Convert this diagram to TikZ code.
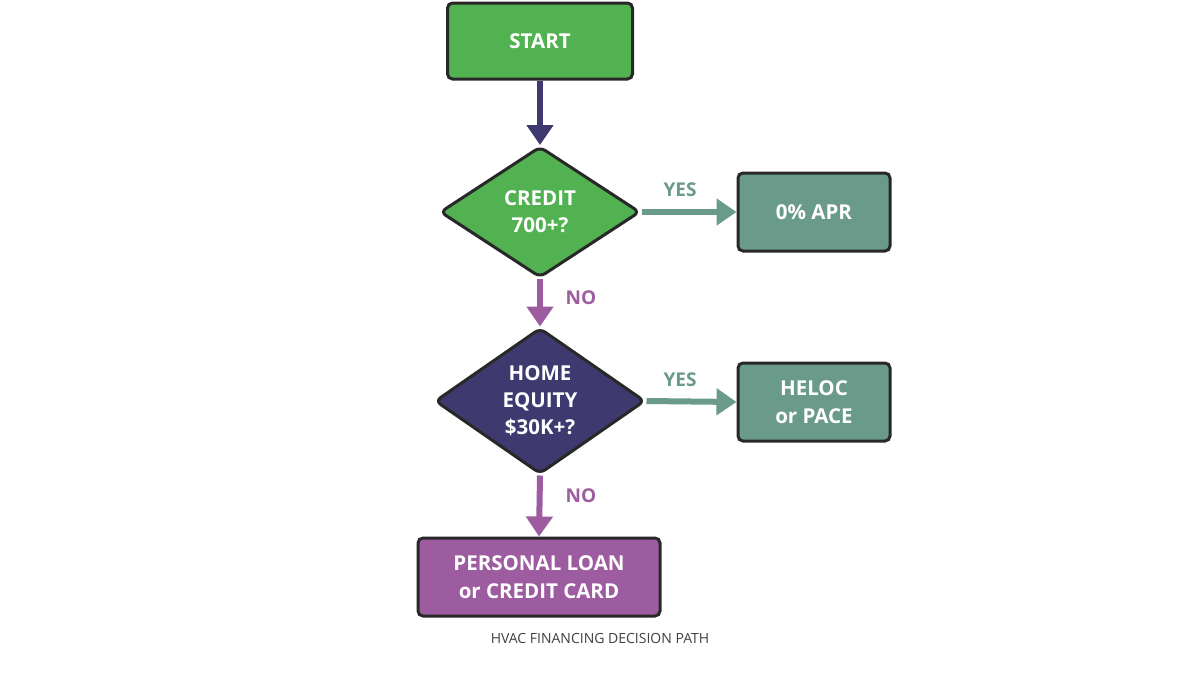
\documentclass[tikz,border=0pt]{standalone}
\usepackage{fontspec}
\setmainfont{Open Sans}
\usetikzlibrary{shapes.geometric,arrows.meta}
\definecolor{gr}{RGB}{82,178,82}
\definecolor{tl}{RGB}{106,154,138}
\definecolor{nv}{RGB}{62,58,112}
\definecolor{pu}{RGB}{158,92,160}
\definecolor{bd}{RGB}{40,40,40}
\begin{document}
\begin{tikzpicture}[x=1pt,y=-1pt,
  box/.style={draw=bd,line width=3pt,rounded corners=5pt,text=white,font=\fontsize{20.5}{28}\selectfont\bfseries,align=center,inner sep=0},
  dia/.style={diamond,draw=bd,line width=3pt,rounded corners=6pt,text=white,font=\fontsize{20.5}{27}\selectfont\bfseries,align=center,inner sep=0},
  arr/.style={line width=6pt,-{Triangle[length=20pt,width=26pt]}},
  lab/.style={font=\fontsize{19}{22}\selectfont\bfseries}]
\fill[white] (0,0) rectangle (1200,675);
\useasboundingbox (0,0) rectangle (1200,675);
\node[box,fill=gr,minimum width=185pt,minimum height=76pt] (start) at (540,41) {START};
\node[dia,fill=gr,minimum width=200pt,minimum height=131pt] (d1) at (540,212) {CREDIT\\700+?};
\node[box,fill=tl,minimum width=152pt,minimum height=78pt] (apr) at (814,212) {0\% APR};
\node[dia,fill=nv,minimum width=210pt,minimum height=146pt] (d2) at (540,401) {HOME\\EQUITY\\\$30K+?};
\node[box,fill=tl,minimum width=152pt,minimum height=78pt] (heloc) at (814,402) {HELOC\\or PACE};
\node[box,fill=pu,minimum width=242pt,minimum height=78pt] (pl) at (539,577) {PERSONAL LOAN\\or CREDIT CARD};
\draw[arr,draw=nv,fill=nv] (start) -- (d1);
\draw[arr,draw=tl,fill=tl] (d1.east) -- (apr.west);
\draw[arr,draw=pu,fill=pu] (d1.south) -- (d2.north);
\draw[arr,draw=tl,fill=tl] (d2.east) -- (heloc.west);
\draw[arr,draw=pu,fill=pu] (d2.south) -- (pl.north);
\node[lab,text=tl] (y1) at (680,190) {YES};
\node[lab,text=tl] (y2) at (680,380) {YES};
\node[lab,text=pu] (n1) at (581,298) {NO};
\node[lab,text=pu] (n2) at (581,496) {NO};
\node[font=\fontsize{14}{16}\selectfont,text=black!75] (cap) at (600,638) {HVAC FINANCING DECISION PATH};
\end{tikzpicture}
\end{document}
